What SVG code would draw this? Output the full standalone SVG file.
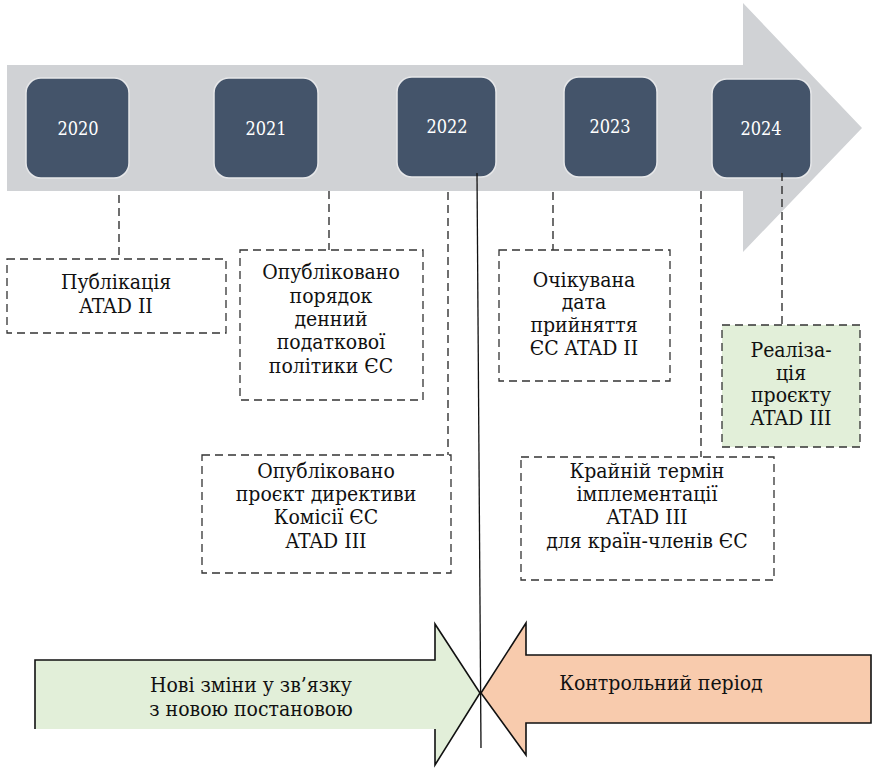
<svg xmlns="http://www.w3.org/2000/svg" width="873" height="769" viewBox="0 0 873 769">
<style>
.yr{fill:#44546a;stroke:#e6e7e9;stroke-width:1.5}
.db{fill:#fff;stroke:#333;stroke-width:1.3;stroke-dasharray:8 5}
.dl{fill:none;stroke:#222;stroke-width:1.3;stroke-dasharray:8 5}
.ol{fill:none;stroke:#111;stroke-width:1.6;stroke-linejoin:miter}
.tx{font-family:"DejaVu Serif Condensed","DejaVu Serif",serif;font-stretch:condensed;font-size:21px;text-anchor:middle;fill:#111}
.ty{font-family:"DejaVu Serif Condensed","DejaVu Serif",serif;font-stretch:condensed;font-size:18px;text-anchor:middle;fill:#fff}
</style>
<g id="timeline">
<polygon points="7,65 743,65 743,3 862,128 743,252 743,191 7,191" fill="#d0d2d5"/>
</g>
<g id="y2020"><rect class="yr" x="26" y="78" width="103" height="100" rx="15"/><text class="ty" x="78" y="135">2020</text></g>
<g id="y2021"><rect class="yr" x="214" y="78" width="104" height="100" rx="15"/><text class="ty" x="266" y="135">2021</text></g>
<g id="y2022"><rect class="yr" x="397" y="77" width="99" height="100" rx="15"/><text class="ty" x="447" y="133">2022</text></g>
<g id="y2023"><rect class="yr" x="564" y="77" width="93" height="100" rx="15"/><text class="ty" x="610" y="133">2023</text></g>
<g id="y2024"><rect class="yr" x="712" y="79" width="99" height="99" rx="15"/><text class="ty" x="761" y="135">2024</text></g>
<g id="connectors">
<line class="dl" x1="119" y1="195" x2="119" y2="259"/>
<line class="dl" x1="329" y1="191" x2="329" y2="250"/>
<line class="dl" x1="448" y1="192" x2="448" y2="455"/>
<line class="dl" x1="553" y1="192" x2="553" y2="250"/>
<line class="dl" x1="701" y1="191" x2="701" y2="457"/>
<line class="dl" x1="782" y1="173" x2="782" y2="325"/>
<line x1="477" y1="173" x2="481" y2="748" stroke="#111" stroke-width="1.3"/>
</g>
<g id="n-atad2"><rect class="db" x="7" y="259" width="219" height="74"/><text class="tx"><tspan x="116" y="289">Публікація</tspan><tspan x="116" y="313">ATAD II</tspan></text></g>
<g id="n-agenda"><rect class="db" x="240" y="250" width="183" height="150"/><text class="tx"><tspan x="331" y="279">Опубліковано</tspan><tspan x="331" y="303">порядок</tspan><tspan x="331" y="326">денний</tspan><tspan x="331" y="349">податкової</tspan><tspan x="331" y="373">політики ЄС</tspan></text></g>
<g id="n-draft"><rect class="db" x="202" y="455" width="249" height="118"/><text class="tx"><tspan x="326" y="478">Опубліковано</tspan><tspan x="326" y="501">проєкт директиви</tspan><tspan x="326" y="524">Комісії ЄС</tspan><tspan x="326" y="548">ATAD III</tspan></text></g>
<g id="n-expected"><rect class="db" x="499" y="250" width="171" height="131"/><text class="tx"><tspan x="584" y="287">Очікувана</tspan><tspan x="584" y="309">дата</tspan><tspan x="584" y="332">прийняття</tspan><tspan x="584" y="355">ЄС ATAD II</tspan></text></g>
<g id="n-deadline"><rect class="db" x="521" y="457" width="253" height="123"/><text class="tx"><tspan x="647" y="478">Крайній термін</tspan><tspan x="647" y="501">імплементації</tspan><tspan x="647" y="524">ATAD III</tspan><tspan x="647" y="548">для країн-членів ЄС</tspan></text></g>
<g id="n-realization"><rect class="db" x="722" y="325" width="138" height="122" style="fill:#e2efd9"/><text class="tx"><tspan x="791" y="357">Реаліза-</tspan><tspan x="791" y="380">ція</tspan><tspan x="791" y="402">проєкту</tspan><tspan x="791" y="425">ATAD III</tspan></text></g>
<g id="n-new-changes">
<polygon points="35,660 435,660 435,624 480,693 435,765 435,729 35,729" fill="#e2efd9"/>
<path class="ol" d="M35,729 L35,660 L435,660 L435,624 L480,693 L435,765 L435,729"/>
<text class="tx"><tspan x="251" y="692">Нові зміни у зв’язку</tspan><tspan x="251" y="716">з новою постановою</tspan></text>
</g>
<g id="n-control">
<polygon class="ol" points="481,693 526,623 526,655 871,655 871,723 526,723 526,755" style="fill:#f8cbad"/>
<text class="tx" x="661" y="690">Контрольний період</text>
</g>
</svg>
